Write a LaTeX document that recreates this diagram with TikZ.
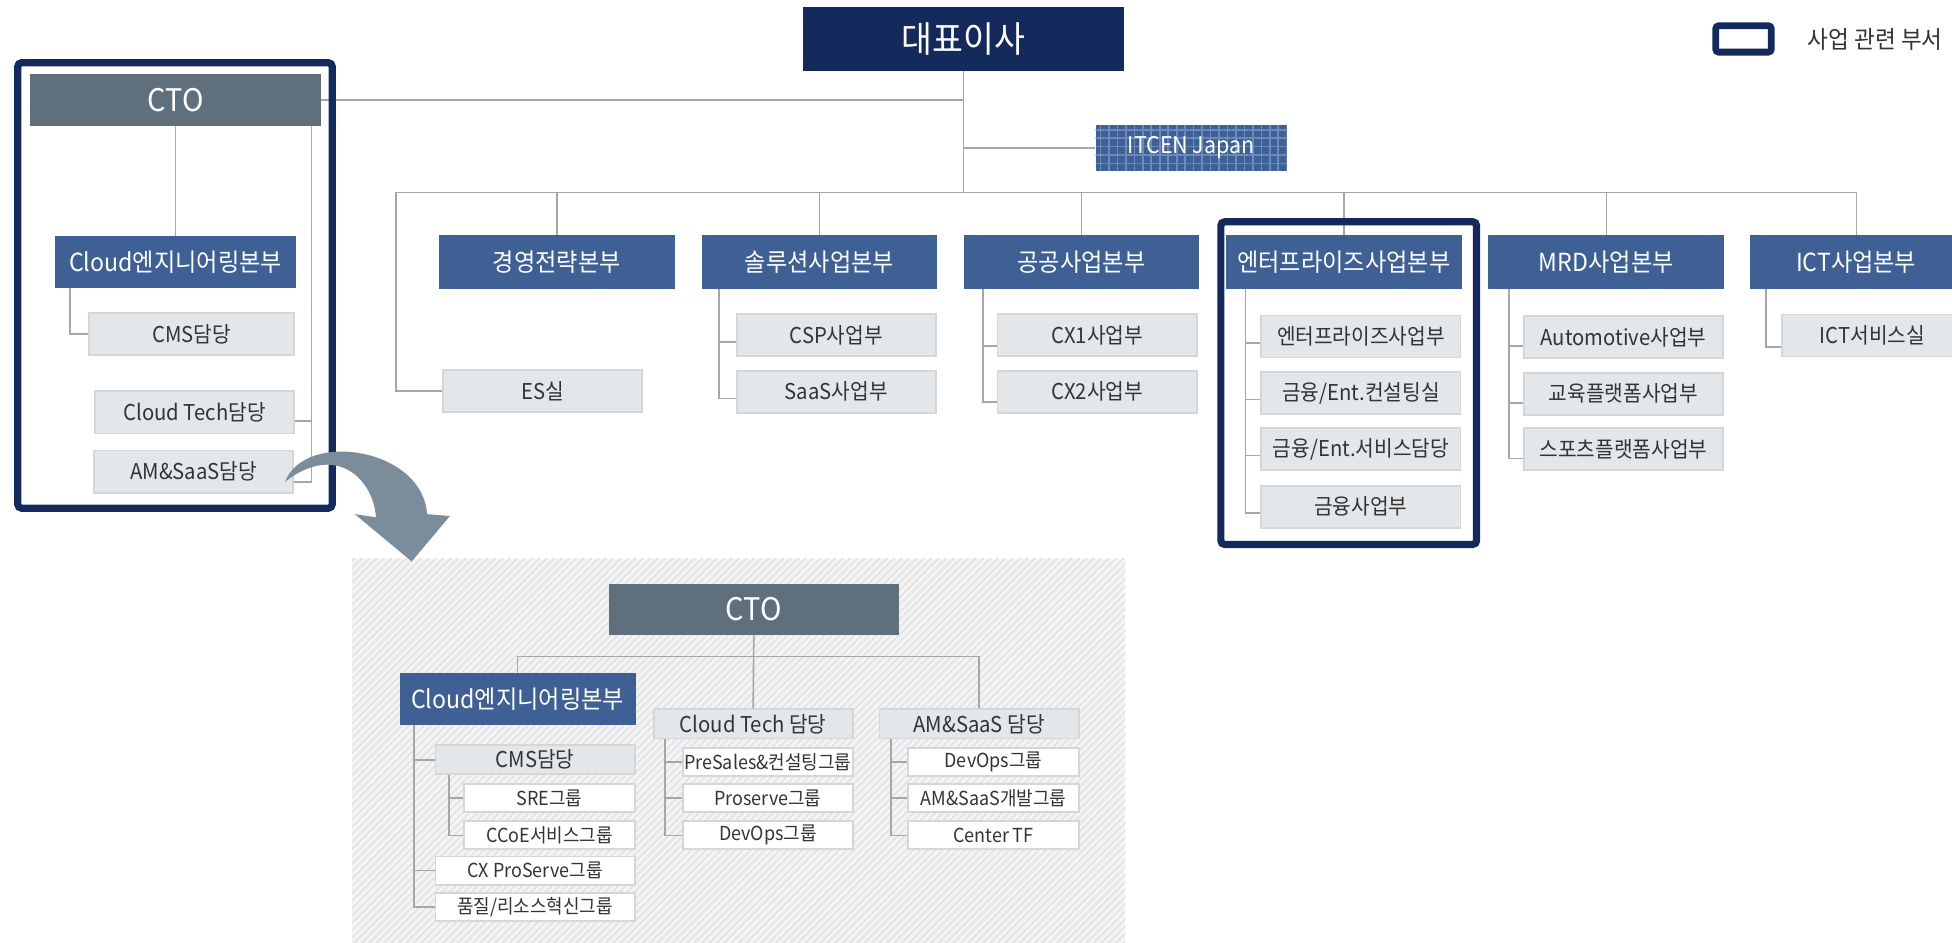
\documentclass[tikz,border=0pt]{standalone}
\usepackage{fontspec}
\setmainfont{Noto Sans CJK KR}[FakeStretch=0.93]
\usetikzlibrary{positioning}
\usetikzlibrary{patterns.meta}
\definecolor{ceonavy}{HTML}{142A5C}
\definecolor{hqblue}{HTML}{3E6095}
\definecolor{ctoslate}{HTML}{5F707C}
\definecolor{unitfill}{HTML}{E3E7EA}
\definecolor{unitline}{HTML}{D2D7DB}
\definecolor{linkgray}{HTML}{A6A6A6}
\definecolor{arrowgray}{HTML}{7B8D9B}
\definecolor{gridblue}{HTML}{6A8BBE}
\definecolor{panelbase}{HTML}{F4F4F4}
\definecolor{panelline}{HTML}{E4E4E4}
\definecolor{labeltext}{HTML}{333333}
\tikzset{
    ceo box/.style={
        fill=ceonavy, text=white, inner sep=0,
        minimum width=258pt, minimum height=51pt,
        font=\fontsize{29}{32}\selectfont,
    },
    cto box/.style={
        fill=ctoslate, text=white, inner sep=0,
        minimum width=234pt, minimum height=41.6pt,
        font=\fontsize{25}{29}\selectfont,
    },
    hq box/.style={
        fill=hqblue, text=white, inner sep=0,
        minimum width=189.5pt, minimum height=43.3pt,
        font=\fontsize{20}{24}\selectfont,
    },
    itcen box/.style={
        fill=hqblue, text=white, inner sep=0,
        minimum width=153.6pt, minimum height=36.3pt,
        postaction={pattern={Hatch[distance=6.8pt,line width=1.3pt]}, pattern color=gridblue},
        font=\fontsize{18.5}{22}\selectfont,
    },
    unit box/.style={
        fill=unitfill, draw=unitline, line width=1.5pt, text=labeltext, inner sep=0,
        minimum width=160pt, minimum height=33.8pt,
        font=\fontsize{17.5}{21}\selectfont,
    },
    lead box/.style={
        unit box, minimum width=160pt, minimum height=23.5pt,
    },
    group box/.style={
        fill=white, draw=unitline, line width=1.5pt, text=labeltext, inner sep=0,
        minimum width=137pt, minimum height=22.5pt,
        font=\fontsize{15.5}{19}\selectfont,
    },
    legend box/.style={
        draw=ceonavy, fill=white, line width=5.5pt, rounded corners=2.5pt,
        minimum width=44.6pt, minimum height=21.2pt, inner sep=0,
    },
    legend text/.style={
        text=labeltext, inner sep=0, font=\fontsize{19.5}{23}\selectfont,
    },
    link/.style={
        draw=linkgray, line width=1.3pt,
    },
    unit frame/.style={
        draw=ceonavy, line width=5.8pt, rounded corners=3pt,
    },
}
\begin{document}
\begin{tikzpicture}[x=1pt, y=-1pt]
    \useasboundingbox (0,0) rectangle (1568,757);

    % enlarged CTO panel
    \fill[panelbase] (283,449) rectangle (904,760);
    \fill[pattern={Lines[angle=45,distance=4.2pt,line width=1.5pt]}, pattern color=panelline] (283,449) rectangle (904,760);

    \node[ceo box] (ceo) at (774,31.5) {대표이사};
    \node[legend box] (legend) at (1400.5,31.3) {};
    \node[legend text, anchor=west] (legendtxt) at (1452,31.3) {사업 관련 부서};
    \node[cto box] (cto) at (141,80.2) {CTO};
    \node[itcen box] (itcen) at (956.8,118.9) {ITCEN Japan};

    \node[hq box] (mgmt) at (447.2,210.4) {경영전략본부};
    \node[hq box] (sol) at (658.3,210.4) {솔루션사업본부};
    \node[hq box] (pub) at (868.7,210.4) {공공사업본부};
    \node[hq box] (ent) at (1079.5,210.4) {엔터프라이즈사업본부};
    \node[hq box] (mrd) at (1290.3,210.4) {MRD사업본부};
    \node[hq box, minimum width=170pt] (ict) at (1491,210.4) {ICT사업본부};
    \node[hq box, minimum width=194pt, minimum height=41.5pt] (cloud) at (141,210.3) {Cloud엔지니어링본부};

    \node[unit box] (es) at (436,314.3) {ES실};
    \node[unit box] (csp) at (671.7,269.4) {CSP사업부};
    \node[unit box] (saas) at (671.7,314.6) {SaaS사업부};
    \node[unit box] (cx1) at (881.3,269.4) {CX1사업부};
    \node[unit box] (cx2) at (881.3,314.6) {CX2사업부};
    \node[unit box] (entbiz) at (1093.2,270.3) {엔터프라이즈사업부};
    \node[unit box] (fincon) at (1093.2,315.8) {금융/Ent.컨설팅실};
    \node[unit box] (finsvc) at (1093.2,360.8) {금융/Ent.서비스담당};
    \node[unit box] (finbiz) at (1093.2,407) {금융사업부};
    \node[unit box] (auto) at (1304.1,270.6) {Automotive사업부};
    \node[unit box] (edu) at (1304.1,316.3) {교육플랫폼사업부};
    \node[unit box] (sports) at (1304.1,360.8) {스포츠플랫폼사업부};
    \node[unit box, minimum width=145pt] (ictsvc) at (1504,269.5) {ICT서비스실};
    \node[unit box, minimum width=165pt] (cms) at (154,268.3) {CMS담당};
    \node[unit box] (ctech) at (156.3,331.3) {Cloud Tech담당};
    \node[unit box] (amsaas) at (155.6,378.8) {AM\&SaaS담당};

    % top links
    \coordinate (busL) at (318,154.5);
    \coordinate (busR) at (1491.4,154.5);
    \draw[link] (busL) -- (busR);
    \draw[link] (ceo.south) -- (ceo.south |- busL);
    \draw[link] (cto.east) -- (cto.east -| ceo.south);
    \draw[link] (itcen.west -| ceo.south) -- (itcen.west);
    \draw[link] (busL) |- (es.west);
    \foreach \hq in {mgmt,sol,pub,ent,mrd}
    {
        \draw[link] (\hq.north |- busL) -- (\hq.north);
    }
    \draw[link] (busR) -- (busR |- ict.north);

    \foreach \hq/\dx/\dy/\subs in {sol/14.2/-5.5/{csp,saas}, pub/15.8/-8.5/{cx1,cx2},
        ent/15.8/-5/{entbiz,fincon,finsvc,finbiz}, mrd/16.9/-7.5/{auto,edu,sports}, ict/12.6/-9/{ictsvc}}
    {
        \coordinate (\hq L) at ([xshift=\dx pt]\hq.south west);
        \foreach \s in \subs
        {
            \draw[link] (\hq L) |- ([yshift=\dy pt]\s.west);
        }
    }

    \draw[link] (cto.south) -- (cloud.north);
    \coordinate (cloudL) at ([xshift=12.6pt]cloud.south west);
    \draw[link] (cloudL) |- (cms.west);
    \coordinate (ctoR) at ([xshift=-8pt]cto.south east);
    \draw[link] (ctoR) |- ([yshift=-8.6pt]amsaas.east);
    \draw[link] ([yshift=-6.7pt]ctech.east) -| (ctoR);

    \draw[unit frame] (14.3,50.4) rectangle (266.8,408.2);
    \draw[unit frame] (980.7,178.2) rectangle (1186.1,437.3);

    % zoom arrow
    \fill[arrowgray] (229,387) .. controls (245,345) and (340,360) .. (343,413)
        -- (361.4,414.5) -- (330.7,451) -- (285,413) -- (302,415.5)
        .. controls (300,385) and (270,355) .. (229,387) -- cycle;

    % CTO detail
    \node[cto box, minimum width=233pt, minimum height=41.2pt] (cto2) at (605.5,489.4) {CTO};
    \node[hq box, minimum width=189.6pt, minimum height=41pt] (cloud2) at (415.8,561.5) {Cloud엔지니어링본부};
    \node[lead box] (ctech2) at (605,581.5) {Cloud Tech 담당};
    \node[lead box] (am2) at (786.5,581.5) {AM\&SaaS 담당};
    \node[lead box] (cms2) at (429.8,610.3) {CMS담당};
    \node[group box] (sre) at (441.3,641) {SRE그룹};
    \node[group box] (ccoe) at (441.3,671) {CCoE서비스그룹};
    \node[group box, minimum width=160pt] (cxpro) at (429.8,699.3) {CX ProServe그룹};
    \node[group box, minimum width=160pt] (qual) at (429.8,728.6) {품질/리소스혁신그룹};
    \node[group box] (presales) at (616.8,612) {PreSales\&컨설팅그룹};
    \node[group box] (proserve) at (616.8,641) {Proserve그룹};
    \node[group box] (devopsa) at (616.8,671) {DevOps그룹};
    \node[group box] (devopsb) at (798,612) {DevOps그룹};
    \node[group box] (amdev) at (798,641) {AM\&SaaS개발그룹};
    \node[group box] (centertf) at (798,671) {Center TF};

    \path (cto2.south) ++(0,17) coordinate (bus2);
    \draw[link] (cto2.south) -- (ctech2.north);
    \draw[link] (cloud2.north) |- (bus2) -| (am2.north);

    \foreach \lead/\dx/\subs in {cloud2/12/{cms2,cxpro,qual}, cms2/11.7/{sre,ccoe},
        ctech2/9.8/{presales,proserve,devopsa}, am2/10/{devopsb,amdev,centertf}}
    {
        \coordinate (\lead L) at ([xshift=\dx pt]\lead.south west);
        \foreach \s in \subs
        {
            \draw[link] (\lead L) |- (\s.west);
        }
    }

\end{tikzpicture}
\end{document}
